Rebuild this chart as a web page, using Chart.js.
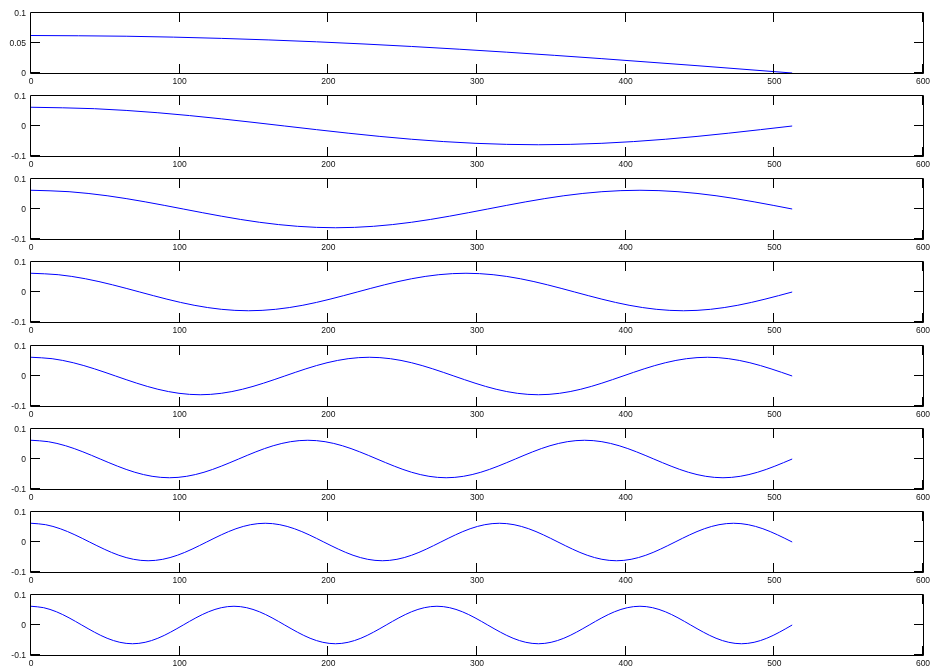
<!DOCTYPE html>
<html>
<head>
<meta charset="utf-8">
<script src="https://cdn.jsdelivr.net/npm/chart.js@4/dist/chart.umd.min.js"></script>
<style>
  html, body { margin: 0; padding: 0; background: #ffffff; }
  #wrap { position: relative; width: 933px; height: 667px; overflow: hidden; background: #fff; }
  canvas { position: absolute; left: 0; }
</style>
</head>
<body>
<div id="wrap"></div>
<script>
// ---- tick values / labels ----
const xTicks = [0, 100, 200, 300, 400, 500, 600];
const xTickLabels = ['0', '100', '200', '300', '400', '500', '600'];
const yTicksFirst = [0, 0.05, 0.1];
const yTickLabelsFirst = ['0', '0.05', '0.1'];
const yTicks = [-0.1, 0, 0.1];
const yTickLabels = ['-0.1', '0', '0.1'];

// ---- series (sample positions and values) ----
const x1 = [0, 64, 128, 192, 256, 320, 384, 448, 512];
const y1 = [0.0625, 0.0613, 0.0577, 0.0520, 0.0442, 0.0347, 0.0239, 0.0122, 0];

const x2 = [0, 42.67, 85.33, 128, 170.67, 213.33, 256, 298.67, 341.33, 384, 426.67, 469.33, 512];
const y2 = [0.0625, 0.0577, 0.0442, 0.0239, 0, -0.0239, -0.0442, -0.0577, -0.0625, -0.0577, -0.0442, -0.0239, 0];

const x3 = [0, 25.6, 51.2, 76.8, 102.4, 128, 153.6, 179.2, 204.8, 230.4, 256, 281.6, 307.2, 332.8, 358.4, 384, 409.6, 435.2, 460.8, 486.4, 512];
const y3 = [0.0625, 0.0577, 0.0442, 0.0239, 0, -0.0239, -0.0442, -0.0577, -0.0625, -0.0577, -0.0442, -0.0239, 0, 0.0239, 0.0442, 0.0577,
            0.0625, 0.0577, 0.0442, 0.0239, 0];

const x4 = [0, 18.29, 36.57, 54.86, 73.14, 91.43, 109.71, 128, 146.29, 164.57, 182.86, 201.14, 219.43, 237.71, 256, 274.29, 292.57, 310.86, 329.14, 347.43, 365.71, 384, 402.29, 420.57, 438.86, 457.14, 475.43, 493.71, 512];
const y4 = [0.0625, 0.0577, 0.0442, 0.0239, 0, -0.0239, -0.0442, -0.0577, -0.0625, -0.0577, -0.0442, -0.0239, 0, 0.0239, 0.0442, 0.0577,
            0.0625, 0.0577, 0.0442, 0.0239, 0, -0.0239, -0.0442, -0.0577, -0.0625, -0.0577, -0.0442, -0.0239, 0];

const x5 = [0, 14.22, 28.44, 42.67, 56.89, 71.11, 85.33, 99.56, 113.78, 128, 142.22, 156.44, 170.67, 184.89, 199.11, 213.33, 227.56, 241.78, 256, 270.22, 284.44, 298.67, 312.89, 327.11, 341.33, 355.56, 369.78, 384, 398.22, 412.44, 426.67, 440.89, 455.11, 469.33, 483.56, 497.78, 512];
const y5 = [0.0625, 0.0577, 0.0442, 0.0239, 0, -0.0239, -0.0442, -0.0577, -0.0625, -0.0577, -0.0442, -0.0239, 0, 0.0239, 0.0442, 0.0577,
            0.0625, 0.0577, 0.0442, 0.0239, 0, -0.0239, -0.0442, -0.0577, -0.0625, -0.0577, -0.0442, -0.0239, 0, 0.0239, 0.0442, 0.0577,
            0.0625, 0.0577, 0.0442, 0.0239, 0];

const x6 = [0, 11.64, 23.27, 34.91, 46.55, 58.18, 69.82, 81.45, 93.09, 104.73, 116.36, 128, 139.64, 151.27, 162.91, 174.55, 186.18, 197.82, 209.45, 221.09, 232.73, 244.36, 256, 267.64, 279.27, 290.91, 302.55, 314.18, 325.82, 337.45, 349.09, 360.73, 372.36, 384, 395.64, 407.27, 418.91, 430.55, 442.18, 453.82, 465.45, 477.09, 488.73, 500.36, 512];
const y6 = [0.0625, 0.0577, 0.0442, 0.0239, 0, -0.0239, -0.0442, -0.0577, -0.0625, -0.0577, -0.0442, -0.0239, 0, 0.0239, 0.0442, 0.0577,
            0.0625, 0.0577, 0.0442, 0.0239, 0, -0.0239, -0.0442, -0.0577, -0.0625, -0.0577, -0.0442, -0.0239, 0, 0.0239, 0.0442, 0.0577,
            0.0625, 0.0577, 0.0442, 0.0239, 0, -0.0239, -0.0442, -0.0577, -0.0625, -0.0577, -0.0442, -0.0239, 0];

const x7 = [0, 9.85, 19.69, 29.54, 39.38, 49.23, 59.08, 68.92, 78.77, 88.62, 98.46, 108.31, 118.15, 128, 137.85, 147.69, 157.54, 167.38, 177.23, 187.08, 196.92, 206.77, 216.62, 226.46, 236.31, 246.15, 256, 265.85, 275.69, 285.54, 295.38, 305.23, 315.08, 324.92, 334.77, 344.62, 354.46, 364.31, 374.15, 384, 393.85, 403.69, 413.54, 423.38, 433.23, 443.08, 452.92, 462.77, 472.62, 482.46, 492.31, 502.15, 512];
const y7 = [0.0625, 0.0577, 0.0442, 0.0239, 0, -0.0239, -0.0442, -0.0577, -0.0625, -0.0577, -0.0442, -0.0239, 0, 0.0239, 0.0442, 0.0577,
            0.0625, 0.0577, 0.0442, 0.0239, 0, -0.0239, -0.0442, -0.0577, -0.0625, -0.0577, -0.0442, -0.0239, 0, 0.0239, 0.0442, 0.0577,
            0.0625, 0.0577, 0.0442, 0.0239, 0, -0.0239, -0.0442, -0.0577, -0.0625, -0.0577, -0.0442, -0.0239, 0, 0.0239, 0.0442, 0.0577,
            0.0625, 0.0577, 0.0442, 0.0239, 0];

const x8 = [0, 8.53, 17.07, 25.6, 34.13, 42.67, 51.2, 59.73, 68.27, 76.8, 85.33, 93.87, 102.4, 110.93, 119.47, 128, 136.53, 145.07, 153.6, 162.13, 170.67, 179.2, 187.73, 196.27, 204.8, 213.33, 221.87, 230.4, 238.93, 247.47, 256, 264.53, 273.07, 281.6, 290.13, 298.67, 307.2, 315.73, 324.27, 332.8, 341.33, 349.87, 358.4, 366.93, 375.47, 384, 392.53, 401.07, 409.6, 418.13, 426.67, 435.2, 443.73, 452.27, 460.8, 469.33, 477.87, 486.4, 494.93, 503.47, 512];
const y8 = [0.0625, 0.0577, 0.0442, 0.0239, 0, -0.0239, -0.0442, -0.0577, -0.0625, -0.0577, -0.0442, -0.0239, 0, 0.0239, 0.0442, 0.0577,
            0.0625, 0.0577, 0.0442, 0.0239, 0, -0.0239, -0.0442, -0.0577, -0.0625, -0.0577, -0.0442, -0.0239, 0, 0.0239, 0.0442, 0.0577,
            0.0625, 0.0577, 0.0442, 0.0239, 0, -0.0239, -0.0442, -0.0577, -0.0625, -0.0577, -0.0442, -0.0239, 0, 0.0239, 0.0442, 0.0577,
            0.0625, 0.0577, 0.0442, 0.0239, 0, -0.0239, -0.0442, -0.0577, -0.0625, -0.0577, -0.0442, -0.0239, 0];

const panels = [
  { xs: x1, ys: y1, yMin: 0, yMax: 0.1, yT: yTicksFirst, yL: yTickLabelsFirst },
  { xs: x2, ys: y2, yMin: -0.1, yMax: 0.1, yT: yTicks, yL: yTickLabels },
  { xs: x3, ys: y3, yMin: -0.1, yMax: 0.1, yT: yTicks, yL: yTickLabels },
  { xs: x4, ys: y4, yMin: -0.1, yMax: 0.1, yT: yTicks, yL: yTickLabels },
  { xs: x5, ys: y5, yMin: -0.1, yMax: 0.1, yT: yTicks, yL: yTickLabels },
  { xs: x6, ys: y6, yMin: -0.1, yMax: 0.1, yT: yTicks, yL: yTickLabels },
  { xs: x7, ys: y7, yMin: -0.1, yMax: 0.1, yT: yTicks, yL: yTickLabels },
  { xs: x8, ys: y8, yMin: -0.1, yMax: 0.1, yT: yTicks, yL: yTickLabels }
];

// ---- layout ----
const W = 933, CH = 87, TOP_PAD = 12, XAX_H = 15, Y_AX_W = 31, RIGHT_PAD = 10;
const FIRST_TOP = 12.5, PITCH = 83.25, TICK_LEN = 9;
const FONT_CSS = '8.5px "Liberation Sans", Arial, Helvetica, sans-serif';

const framePlugin = {
  id: 'frame',
  afterDraw(chart) {
    const { ctx, chartArea: a } = chart;
    const xs = chart.scales.x, ys = chart.scales.y;
    const p = chart.options.plugins.frame;
    ctx.save();
    ctx.strokeStyle = '#000';
    ctx.lineWidth = 1;
    ctx.beginPath();
    ctx.rect(a.left - 0.5, a.top - 0.5, a.right - a.left + 1, a.bottom - a.top + 1);
    ctx.stroke();
    ctx.beginPath();
    xs.ticks.forEach(t => {
      const px = Math.round(xs.getPixelForValue(t.value)) - 0.5;
      ctx.moveTo(px, a.bottom);
      ctx.lineTo(px, a.bottom - TICK_LEN);
      ctx.moveTo(px, a.top);
      ctx.lineTo(px, a.top + TICK_LEN);
    });
    ys.ticks.forEach(t => {
      const py = Math.round(ys.getPixelForValue(t.value)) - 0.5;
      ctx.moveTo(a.left, py);
      ctx.lineTo(a.left + TICK_LEN, py);
      ctx.moveTo(a.right, py);
      ctx.lineTo(a.right - TICK_LEN, py);
    });
    ctx.stroke();
    // tick labels
    ctx.fillStyle = '#111';
    ctx.font = FONT_CSS;
    ctx.textBaseline = 'middle';
    ctx.textAlign = 'center';
    xs.ticks.forEach((t, i) => {
      ctx.fillText(p.xLabels[i], xs.getPixelForValue(t.value), a.bottom + 8.5);
    });
    ctx.textAlign = 'right';
    ys.ticks.forEach((t, i) => {
      ctx.fillText(p.yLabels[i], a.left - 5, ys.getPixelForValue(t.value) + 0.5);
    });
    ctx.restore();
  }
};

const wrap = document.getElementById('wrap');
panels.forEach((p, k) => {
  const plotTop = Math.round(FIRST_TOP + k * PITCH);
  const cv = document.createElement('canvas');
  cv.width = W; cv.height = CH;
  cv.style.width = W + 'px'; cv.style.height = CH + 'px';
  cv.style.top = (plotTop - TOP_PAD) + 'px';
  wrap.appendChild(cv);

  new Chart(cv.getContext('2d'), {
    type: 'line',
    data: {
      datasets: [{
        data: p.xs.map((x, i) => ({ x: x, y: p.ys[i] })),
        borderColor: '#0000ff',
        borderWidth: 1,
        pointRadius: 0,
        fill: false,
        cubicInterpolationMode: 'monotone'
      }]
    },
    options: {
      responsive: false,
      animation: false,
      devicePixelRatio: 1,
      layout: { padding: { top: TOP_PAD, right: RIGHT_PAD, bottom: 0, left: 0 } },
      plugins: {
        legend: { display: false }, tooltip: { enabled: false }, title: { display: false },
        frame: { xLabels: xTickLabels, yLabels: p.yL }
      },
      scales: {
        x: {
          type: 'linear',
          min: 0, max: 600,
          grid: { display: false },
          border: { display: false },
          afterBuildTicks: s => { s.ticks = xTicks.map(v => ({ value: v })); },
          afterFit: s => { s.height = XAX_H; },
          ticks: { display: false, autoSkip: false }
        },
        y: {
          type: 'linear',
          min: p.yMin, max: p.yMax,
          grid: { display: false },
          border: { display: false },
          afterBuildTicks: s => { s.ticks = p.yT.map(v => ({ value: v })); },
          afterFit: s => { s.width = Y_AX_W; },
          ticks: { display: false, autoSkip: false }
        }
      }
    },
    plugins: [framePlugin]
  });
});
</script>
</body>
</html>
